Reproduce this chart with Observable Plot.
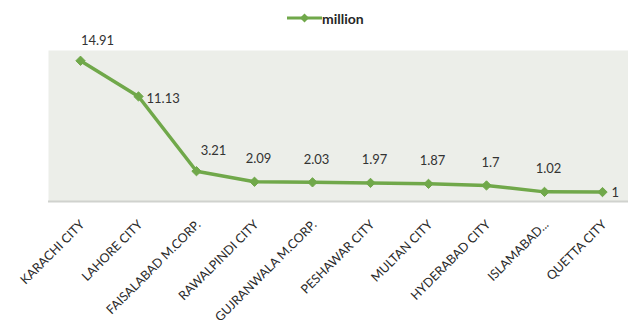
<!DOCTYPE html>
<html>
<head>
<meta charset="utf-8">
<script src="https://cdn.jsdelivr.net/npm/d3@7"></script>
<script src="https://cdn.jsdelivr.net/npm/@observablehq/plot@0.6"></script>
<style>
  html, body { margin: 0; padding: 0; background: #fff; }
  body { width: 628px; height: 328px; overflow: hidden; font-family: Lato, "Open Sans", sans-serif; }
  #legend { height: 36px; display: flex; align-items: center; justify-content: flex-start; padding-left: 287px; box-sizing: border-box; }
  #legend span { font-weight: 700; font-size: 14px; color: #262626; margin-left: 0px; }
  #legend svg { display: block; }
  #chart svg { overflow: visible; }
</style>
</head>
<body>
<div id="legend"></div>
<div id="chart"></div>
<script>
const cities = ["KARACHI CITY", "LAHORE CITY", "FAISALABAD M.CORP.", "RAWALPINDI CITY", "GUJRANWALA M.CORP.", "PESHAWAR CITY", "MULTAN CITY", "HYDERABAD CITY", "ISLAMABAD...", "QUETTA CITY"];
const million = [14.91, 11.13, 3.21, 2.09, 2.03, 1.97, 1.87, 1.7, 1.02, 1];
const seriesName = "million";

const green = "#70a84a";
const data = cities.map((c, i) => ({i, city: c, value: million[i]}));

// legend
const leg = d3.select("#legend");
const ls = leg.append("svg").attr("width", 35).attr("height", 12);
ls.append("line").attr("x1", 0).attr("x2", 35).attr("y1", 6).attr("y2", 6).attr("stroke", green).attr("stroke-width", 3);
ls.append("path").attr("d", "M17.5,1.5L22,6L17.5,10.5L13,6Z").attr("fill", green);
leg.append("span").text(seriesName);

const aboveIdx = [3, 4, 5, 6, 7, 8];
const chart = Plot.plot({
  width: 628,
  height: 292,
  marginTop: 14,
  marginBottom: 127,
  marginLeft: 48,
  marginRight: 0,
  style: {fontFamily: "Lato, 'Open Sans', sans-serif", background: "transparent", overflow: "visible"},
  x: {type: "point", domain: cities, range: [48, 634], padding: 0.5},
  y: {domain: [0, 16], axis: null},
  marks: [
    Plot.frame({fill: "#eceee9", stroke: null}),
    Plot.ruleY([0], {stroke: "#d0d2ce", strokeWidth: 2}),
    Plot.line(data, {x: "city", y: "value", stroke: green, strokeWidth: 3.5}),
    Plot.dot(data, {x: "city", y: "value", symbol: "diamond2", r: 4.2, fill: green, stroke: green, strokeWidth: 1}),
    Plot.text(data, {filter: d => d.i === 0 || d.i === 2, x: "city", y: "value", text: d => String(d.value), dx: 17, dy: -20, fontSize: 13, fill: "#333"}),
    Plot.text(data, {filter: d => aboveIdx.includes(d.i), x: "city", y: "value", text: d => String(d.value), dx: 4, dy: -23, fontSize: 13, fill: "#333"}),
    Plot.text(data, {filter: d => d.i === 1, x: "city", y: "value", text: d => String(d.value), dx: 8, dy: 2, textAnchor: "start", fontSize: 13, fill: "#333"}),
    Plot.text(data, {filter: d => d.i === 9, x: "city", y: "value", text: d => String(d.value), dx: 9, dy: 1, textAnchor: "start", fontSize: 13, fill: "#333"}),
    Plot.axisX({tickRotate: -45, tickSize: 0, tickPadding: 10, dx: 2, dy: 11, fontSize: 12.5, fill: "#2a2a2a", label: null})
  ]
});
document.getElementById("chart").appendChild(chart);
</script>
</body>
</html>
